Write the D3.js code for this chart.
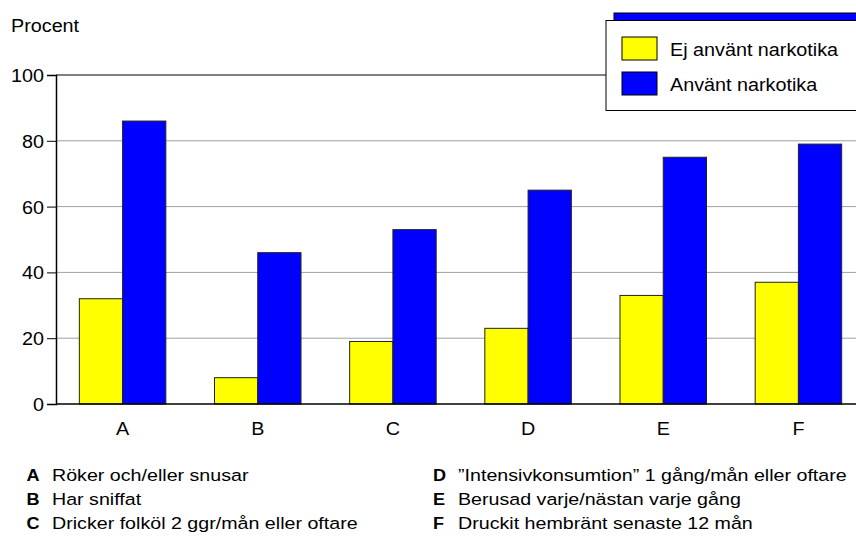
<!DOCTYPE html>
<html>
<head>
<meta charset="utf-8">
<script src="https://cdn.jsdelivr.net/npm/d3@7"></script>
<style>
  body { margin: 0; background: #fff; }
  text { font-family: "Liberation Sans", Arial, sans-serif; fill: #000; }
</style>
</head>
<body>
<script>
let categories = ['A', 'B', 'C', 'D', 'E', 'F']
let seriesNames = ['Ej använt narkotika', 'Använt narkotika']
let ejAnvant = [32, 8, 19, 23, 33, 37]
let anvant = [86, 46, 53, 65, 75, 79]
let yTicks = [0, 20, 40, 60, 80, 100]
let notes = [
  ['A', 'Röker och/eller snusar'],
  ['B', 'Har sniffat'],
  ['C', 'Dricker folköl 2 ggr/mån eller oftare'],
  ['D', '”Intensivkonsumtion” 1 gång/mån eller oftare'],
  ['E', 'Berusad varje/nästan varje gång'],
  ['F', 'Druckit hembränt senaste 12 mån']
]

let width = 856
let height = 541
let colors = ['#ffff00', '#0000ff']
let fs = 17.5   // font size
let sx = 1.13   // the source picture is a little wider than tall

let svg = d3.select('body').append('svg')
  .attr('width', width)
  .attr('height', height)

function label(parent, x, y, str, anchor, size, bold) {
  return parent.append('text')
    .attr('transform', `translate(${x},${y}) scale(${sx},1)`)
    .attr('text-anchor', anchor || 'start')
    .style('font-size', (size || fs) + 'px')
    .style('font-weight', bold ? 'bold' : 'normal')
    .text(str)
}

// scales
let x = d3.scaleBand().domain(categories).range([55, 866]).paddingInner(0.36).paddingOuter(0.18)
let x1 = d3.scaleBand().domain([0, 1]).range([0, x.bandwidth()])
let y = d3.scaleLinear().domain([0, 100]).range([404, 75])

// gridlines
svg.append('g')
  .selectAll('line')
  .data(yTicks.filter(d => d > 0 && d < 100))
  .enter().append('line')
  .attr('x1', 56).attr('x2', width)
  .attr('y1', d => y(d)).attr('y2', d => y(d))
  .attr('stroke', '#a0a0a0')
  .attr('stroke-width', 1)

// top frame line
svg.append('line')
  .attr('x1', 56).attr('x2', width)
  .attr('y1', y(100)).attr('y2', y(100))
  .attr('stroke', '#000')

// bars
let rows = categories.map((c, i) => ({ cat: c, vals: [ejAnvant[i], anvant[i]] }))
let groups = svg.append('g').selectAll('g')
  .data(rows)
  .enter().append('g')
  .attr('transform', d => `translate(${x(d.cat)},0)`)

groups.selectAll('rect')
  .data(d => d.vals.map((v, j) => ({ v, j })))
  .enter().append('rect')
  .attr('x', d => x1(d.j))
  .attr('width', x1.bandwidth())
  .attr('y', d => y(d.v))
  .attr('height', d => y(0) - y(d.v))
  .attr('fill', d => colors[d.j])
  .attr('stroke', '#222')
  .attr('stroke-width', 1)

// y axis
let yAxis = svg.append('g')
  .attr('transform', 'translate(56,0)')
  .call(d3.axisLeft(y).tickValues(yTicks).tickSize(9))
yAxis.select('.domain').attr('stroke', '#000').attr('stroke-width', 1.5)
yAxis.selectAll('.tick line').attr('stroke', '#000')
yAxis.selectAll('text')
  .attr('x', null)
  .attr('dy', '0.37em')
  .attr('transform', `translate(-12,0) scale(${sx},1)`)
  .style('font-size', fs + 'px')

// x axis
svg.append('line')
  .attr('x1', 56).attr('x2', width)
  .attr('y1', y(0)).attr('y2', y(0))
  .attr('stroke', '#000').attr('stroke-width', 1.5)

categories.forEach(c => label(svg, x(c) + x.bandwidth() / 2, 435, c, 'middle'))

label(svg, 11, 32, 'Procent')

// legend
let lg = svg.append('g')
lg.append('rect')
  .attr('x', 614).attr('y', 13).attr('width', 260).attr('height', 90)
  .attr('fill', '#0000ff').attr('stroke', '#000')
lg.append('rect')
  .attr('x', 606).attr('y', 20.5).attr('width', 260).attr('height', 90)
  .attr('fill', '#fff').attr('stroke', '#000')
seriesNames.forEach((s, i) => {
  lg.append('rect')
    .attr('x', 622).attr('y', 37 + i * 35).attr('width', 35).attr('height', 23)
    .attr('fill', colors[i]).attr('stroke', '#000')
  label(lg, 670, 56 + i * 35, s)
})

// explanation of categories
let ng = svg.append('g')
notes.forEach((d, i) => {
  let col = i < 3 ? 0 : 1
  let yy = 480.5 + (i % 3) * 24
  label(ng, col ? 433 : 26.5, yy, d[0], 'start', 16, true)
  label(ng, col ? 458 : 52, yy, d[1], 'start', 17.4)
})
</script>
</body>
</html>
